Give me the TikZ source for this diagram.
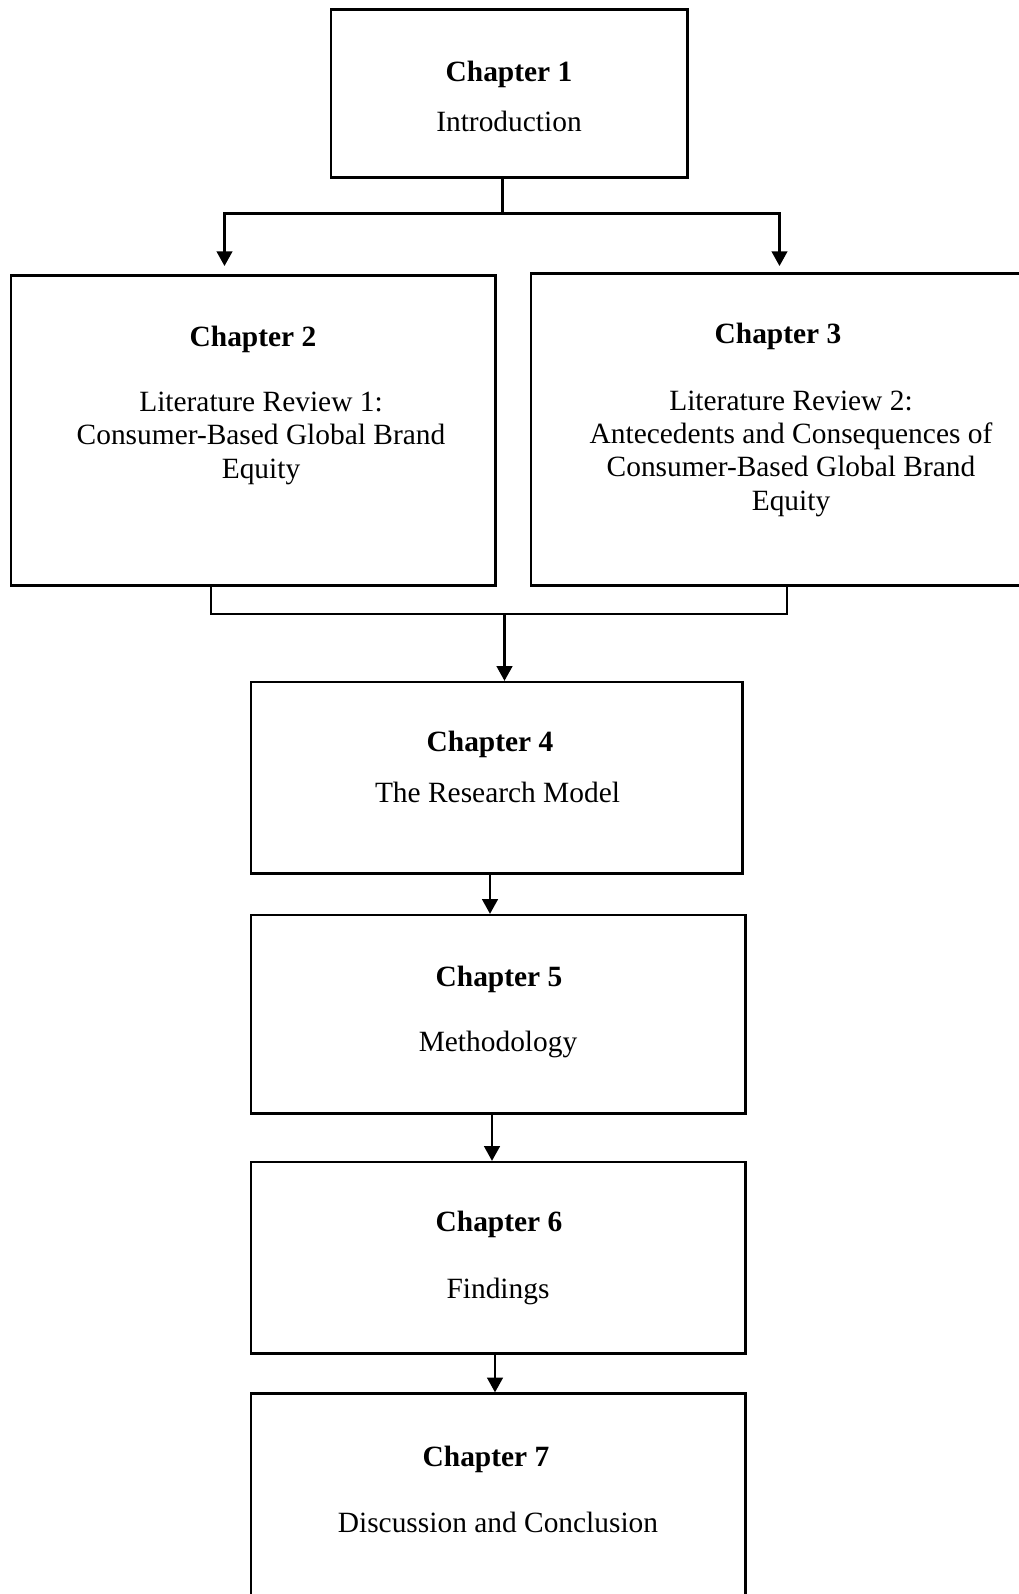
\documentclass[tikz,border=0pt]{standalone}
\usepackage{fontspec}
\setmainfont{Liberation Serif}
\usetikzlibrary{fit,arrows.meta}

\tikzset{
  chbox/.style={draw=black, line width=0.95pt, inner sep=0pt},
  chtitle/.style={anchor=base, inner sep=0pt, font=\fontsize{12pt}{13.6pt}\selectfont\bfseries},
  chbody/.style={anchor=base, inner sep=0pt, align=center, font=\fontsize{12pt}{13.6pt}\selectfont},
  link/.style={line width=0.9pt},
  arr/.style={line width=0.9pt, -{Triangle[length=6pt,width=6.4pt]}}
}

\begin{document}
\begin{tikzpicture}[x=0.408pt, y=-0.408pt]
  \useasboundingbox (0,0) rectangle (1019,1594);
  \clip (0,0) rectangle (1019,1594);

  % chapter boxes
  \node[chbox, fit={(331,9.5) (687.5,177.5)}] (c1) {};
  \node[chbox, fit={(11,275.5) (495.5,585.5)}] (c2) {};
  \node[chbox, fit={(531,273.5) (1026,585.5)}] (c3) {};
  \node[chbox, fit={(251,682) (742.5,873.5)}] (c4) {};
  \node[chbox, fit={(251,915) (745.5,1113.5)}] (c5) {};
  \node[chbox, fit={(251,1162) (745.5,1353.5)}] (c6) {};
  \node[chbox, fit={(251,1393.5) (745.5,1630)}] (c7) {};

  % titles and descriptions (multi-line texts sit on their last baseline)
  \node[chtitle] (c1t) at (509,81.7) {Chapter 1};
  \node[chbody]  (c1b) at (509,131.7) {Introduction};

  \node[chtitle] (c2t) at (253,346) {Chapter 2};
  \node[chbody]  (c2b) at (261,478.3) {Literature Review 1:\\Consumer-Based Global Brand\\Equity};

  \node[chtitle] (c3t) at (778,343.3) {Chapter 3};
  \node[chbody]  (c3b) at (791,510) {Literature Review 2:\\Antecedents and Consequences of\\Consumer-Based Global Brand\\Equity};

  \node[chtitle] (c4t) at (490,751.7) {Chapter 4};
  \node[chbody]  (c4b) at (497.5,802.7) {The Research Model};

  \node[chtitle] (c5t) at (499,986.7) {Chapter 5};
  \node[chbody]  (c5b) at (498,1051.7) {Methodology};

  \node[chtitle] (c6t) at (499,1231.7) {Chapter 6};
  \node[chbody]  (c6b) at (498,1298) {Findings};

  \node[chtitle] (c7t) at (486,1466.7) {Chapter 7};
  \node[chbody]  (c7b) at (498,1532.7) {Discussion and Conclusion};

  % split from chapter 1 to chapters 2 and 3
  \coordinate (j1) at (502.5,213.5);
  \coordinate (t2) at (224.5,266);
  \coordinate (t3) at (779.5,266);
  \draw[link] (c1.south -| j1) -- (j1);
  \draw[arr] (j1) -| (t2);
  \draw[arr] (j1) -| (t3);

  % merge from chapters 2 and 3 into chapter 4
  \coordinate (m2) at (211,614);
  \coordinate (m3) at (787,614);
  \coordinate (m4) at (504.5,614);
  \draw[link] (c2.south -| m2) -- (m2) -- (m3) -- (c3.south -| m3);
  \draw[arr] (m4) -- (c4.north -| m4);

  % chain 4 -> 5 -> 6 -> 7
  \coordinate (x45) at (490,0);
  \coordinate (x56) at (492,0);
  \coordinate (x67) at (495,0);
  \draw[arr] (c4.south -| x45) -- (c5.north -| x45);
  \draw[arr] (c5.south -| x56) -- (c6.north -| x56);
  \draw[arr] (c6.south -| x67) -- (c7.north -| x67);
\end{tikzpicture}
\end{document}
